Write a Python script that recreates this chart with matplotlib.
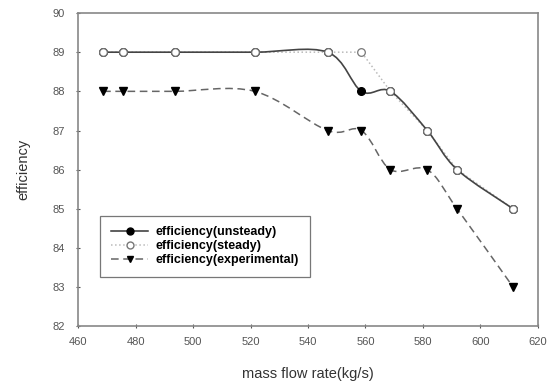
import numpy as np
import matplotlib
matplotlib.use('Agg')
import matplotlib.pyplot as plt
from matplotlib.path import Path
from matplotlib.patches import PathPatch
from matplotlib.lines import Line2D

plt.rcParams['font.family'] = ['Liberation Sans', 'DejaVu Sans']

# data
mass_flow = [468.7, 475.6, 493.7, 521.5, 546.8, 558.6, 568.7, 581.5, 591.9, 611.4]
eff_unsteady = [89, 89, 89, 89, 89, 88, 88, 87, 86, 85]
eff_steady = [89, 89, 89, 89, 89, 89, 88, 87, 86, 85]
eff_exp = [88, 88, 88, 88, 87, 87, 86, 86, 85, 83]


def smooth_path(x, y):
    # catmull-rom curve through the points, as bezier segments
    x = np.asarray(x, float)
    y = np.asarray(y, float)
    px = np.concatenate([[x[0]], x, [x[-1]]])
    py = np.concatenate([[y[0]], y, [y[-1]]])
    verts = [(x[0], y[0])]
    codes = [Path.MOVETO]
    for i in range(1, len(px) - 2):
        c1 = (px[i] + (px[i+1] - px[i-1]) / 6, py[i] + (py[i+1] - py[i-1]) / 6)
        c2 = (px[i+1] - (px[i+2] - px[i]) / 6, py[i+1] - (py[i+2] - py[i]) / 6)
        verts += [c1, c2, (px[i+1], py[i+1])]
        codes += [Path.CURVE4] * 3
    return Path(verts, codes)


fig = plt.figure(figsize=(5.5, 3.83), dpi=100)
ax = fig.add_axes([0.142, 0.148, 0.836, 0.818])

# steady (dotted, straight)
ax.plot(mass_flow, eff_steady, ls=':', color='#bbbbbb', lw=1.1, zorder=2)

# unsteady (solid spline)
ax.add_patch(PathPatch(smooth_path(mass_flow, eff_unsteady), fill=False,
                       ec='#444444', lw=1.2, zorder=3))
ax.plot(mass_flow, eff_unsteady, ls='none', marker='o', ms=5.5,
        mfc='black', mec='black', zorder=4)

# experimental (dashed spline)
ax.add_patch(PathPatch(smooth_path(mass_flow, eff_exp), fill=False,
                       ec='#666666', lw=1.1, ls=(0, (5, 3)), zorder=3))
ax.plot(mass_flow, eff_exp, ls='none', marker='v', ms=5.5,
        mfc='black', mec='black', zorder=4)

# steady markers on top
ax.plot(mass_flow, eff_steady, ls='none', marker='o', ms=5.5,
        mfc='white', mec='#777777', mew=0.9, zorder=5)

ax.set_xlim(460, 620)
ax.set_ylim(82, 90)
ax.set_xticks(np.arange(460, 621, 20))
ax.set_yticks(np.arange(82, 91, 1))
ax.tick_params(labelsize=8, colors='#555555', length=3, direction='inout', width=0.8)
ax.tick_params(axis='x', pad=6)
ax.tick_params(axis='y', pad=8)
for s in ax.spines.values():
    s.set_color('#888888')
    s.set_linewidth(1.2)

ax.set_xlabel('mass flow rate(kg/s)', fontsize=10.5, color='#333333', labelpad=14.5)
ax.set_ylabel('efficiency', fontsize=10.5, color='#333333', labelpad=16)

handles = [
    Line2D([], [], color='#333333', lw=1.1, marker='o', ms=5, mfc='black', mec='black'),
    Line2D([], [], color='#bbbbbb', lw=1.1, ls=':', marker='o', ms=5, mfc='white', mec='#777777'),
    Line2D([], [], color='#666666', lw=1.1, ls=(0, (5, 3)), marker='v', ms=5, mfc='black', mec='black'),
]
labels = ['efficiency(unsteady)', 'efficiency(steady)', 'efficiency(experimental)']
leg = ax.legend(handles, labels, loc='lower left', bbox_to_anchor=(0.048, 0.159),
                prop={'size': 9, 'weight': 'bold'}, fancybox=False, frameon=True,
                edgecolor='#555555', handlelength=3.0, labelspacing=0.15,
                borderpad=0.85, handletextpad=0.6, borderaxespad=0)
leg.get_frame().set_linewidth(0.9)

fig.savefig('out.png', dpi=100)
